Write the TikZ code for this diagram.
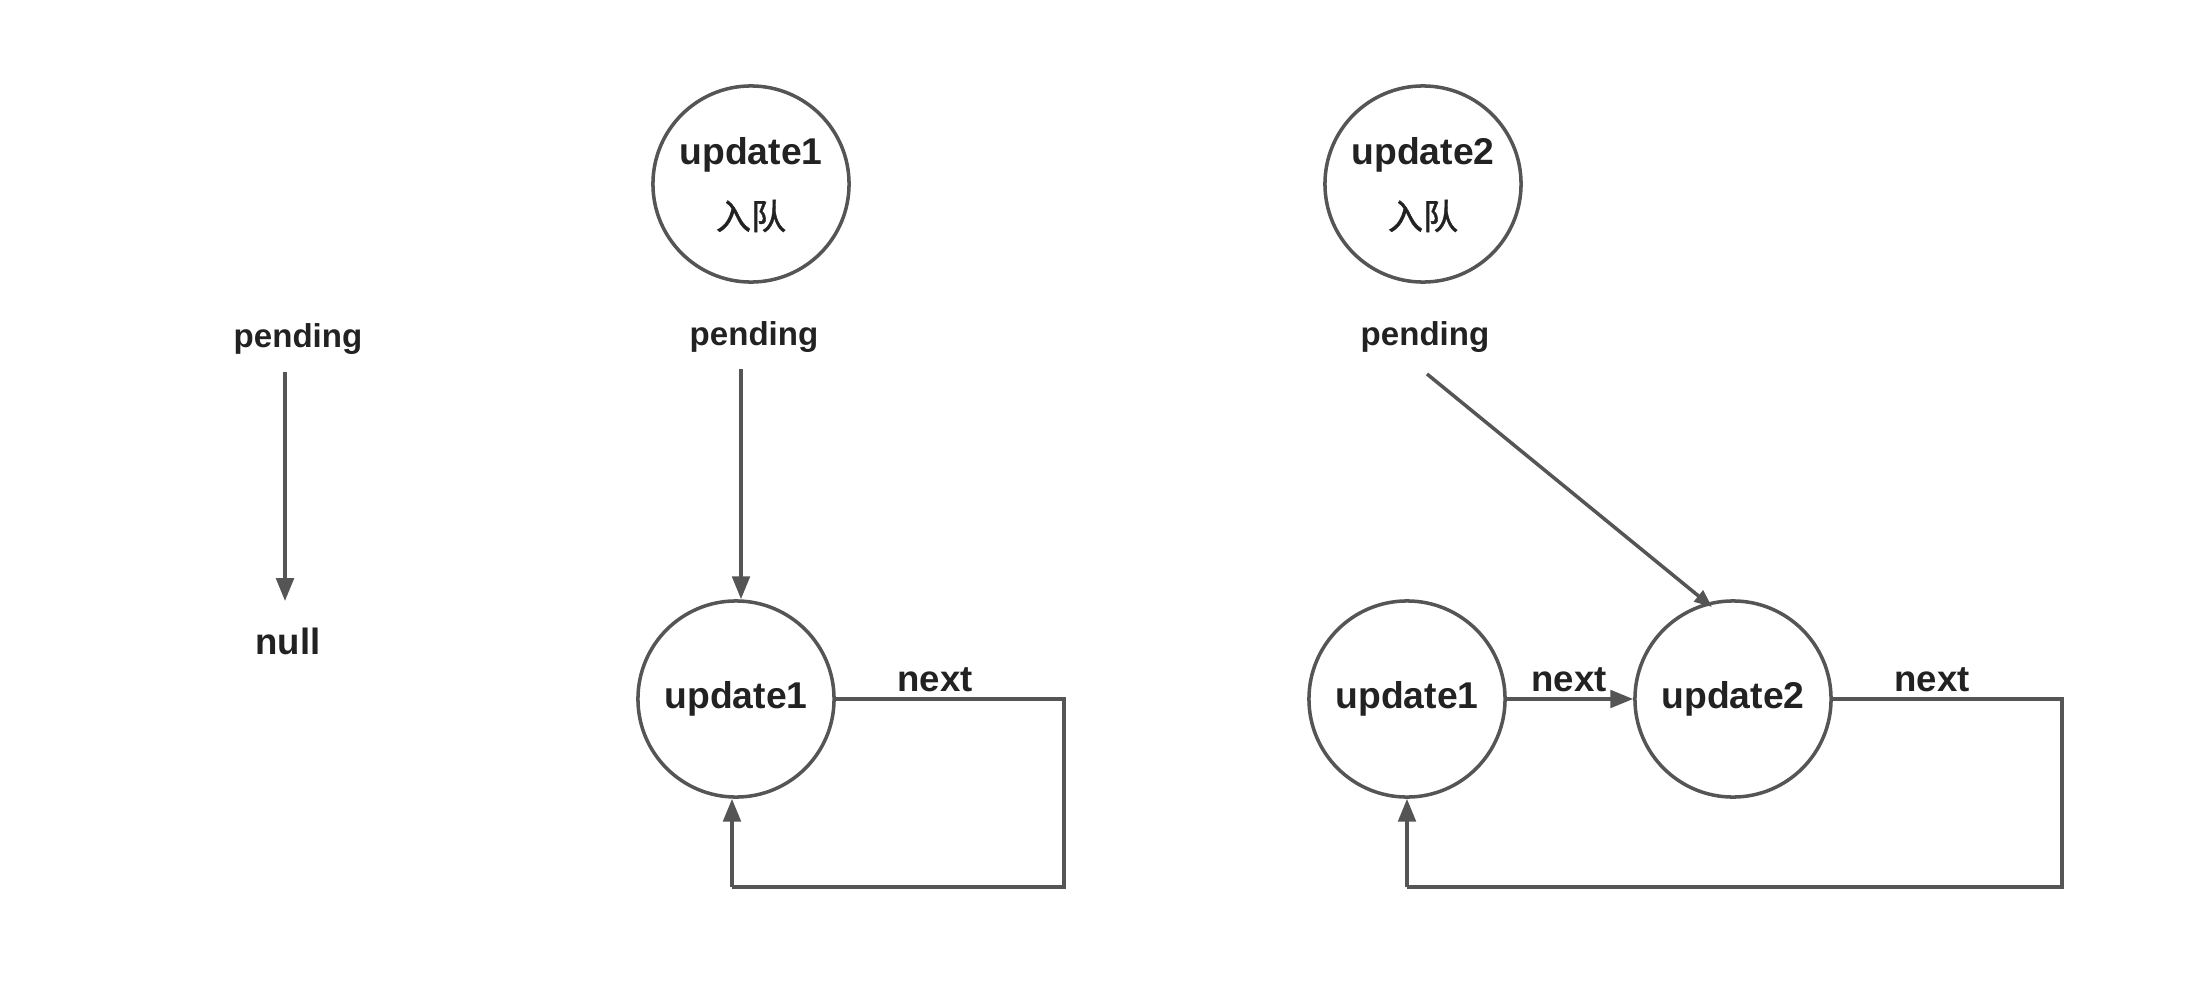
\documentclass[tikz,border=0pt]{standalone}
\usepackage{fontspec}
\setmainfont{Liberation Sans}
\newfontfamily\cjk[FakeBold=1.2]{Noto Sans CJK SC}
\usetikzlibrary{arrows.meta}
\definecolor{linec}{HTML}{555555}
\definecolor{textc}{HTML}{222222}
\begin{document}
\begin{tikzpicture}[x=0.01cm,y=-0.01cm,
  circ/.style={circle,draw=linec,line width=1pt,minimum size=1.96cm,inner sep=0pt,text=textc,font=\bfseries\fontsize{10.6pt}{12pt}\selectfont},
  lbl/.style={text=textc,font=\bfseries\fontsize{9.4pt}{11pt}\selectfont,inner sep=0pt},
  nextlbl/.style={text=textc,font=\bfseries\fontsize{10.4pt}{12pt}\selectfont,inner sep=0pt},
  conn/.style={draw=linec,line width=1pt},
  arr/.style={conn,-{Triangle[length=6.5pt,width=5pt]}}]
\useasboundingbox (0,0) rectangle (2202,1000);
% column 1
\node[lbl] (p1) at (298,339) {pending};
\node[nextlbl] (null) at (288,641) {null};
\coordinate (p1s) at (285,372);
\coordinate (p1e) at (285,601);
\draw[arr] (p1s) -- (p1e);
% column 2
\node[circ] (t1) at (751,184) {};
\node[text=textc,font=\bfseries\fontsize{10.6pt}{12pt}\selectfont] (t1a) at (751,155) {update1};
\node[text=textc,font=\cjk\fontsize{10pt}{12pt}\selectfont] (t1b) at (751,216) {入队};
\node[lbl] (p2) at (754,337) {pending};
\node[circ] (u1) at (736,699) {update1};
\coordinate (p2s) at (741,369);
\draw[arr] (p2s) -- (u1.north -| p2s);
\coordinate (l1a) at (1064,699);
\coordinate (l1b) at (1064,887);
\coordinate (l1c) at (732,887);
\draw[conn] (u1.east) -- (l1a) -- (l1b) -- (l1c);
\draw[arr] (l1c) -- (u1.south -| l1c);
\node[nextlbl] (n1) at (935,680) {next};
% column 3
\node[circ] (t2) at (1423,184) {};
\node[text=textc,font=\bfseries\fontsize{10.6pt}{12pt}\selectfont] (t2a) at (1423,155) {update2};
\node[text=textc,font=\cjk\fontsize{10pt}{12pt}\selectfont] (t2b) at (1423,216) {入队};
\node[lbl] (p3) at (1425,337) {pending};
\node[circ] (v1) at (1407,699) {update1};
\node[circ] (v2) at (1733,699) {update2};
\coordinate (p3s) at (1427,374);
\draw[conn,-{Triangle[length=5pt,width=4pt]}] (p3s) -- (1712,607);
\draw[arr] (v1.east) -- (v2.west);
\node[nextlbl] (n2) at (1569,680) {next};
\coordinate (l2a) at (2062,699);
\coordinate (l2b) at (2062,887);
\coordinate (l2c) at (1407,887);
\draw[conn] (v2.east) -- (l2a) -- (l2b) -- (l2c);
\draw[arr] (l2c) -- (v1.south);
\node[nextlbl] (n3) at (1932,680) {next};
\end{tikzpicture}
\end{document}
